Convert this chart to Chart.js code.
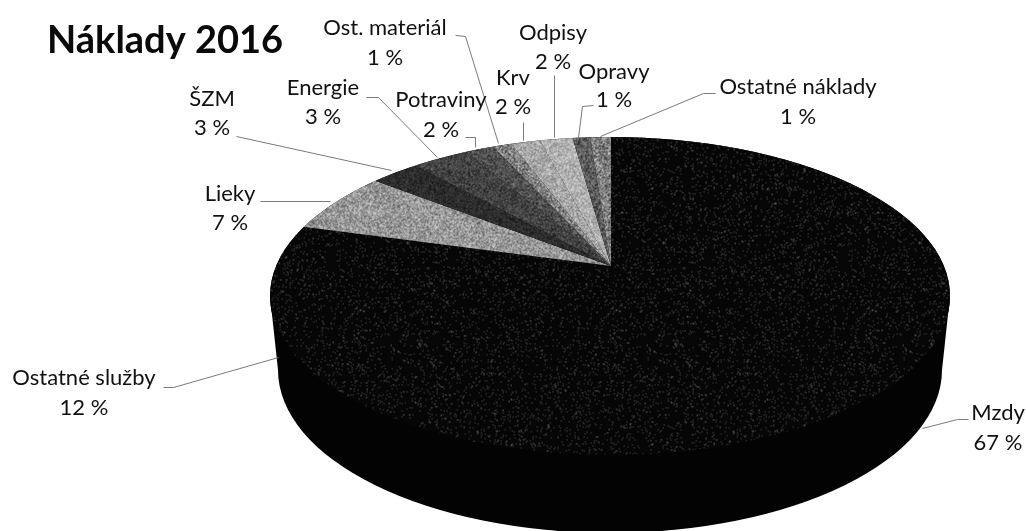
<!DOCTYPE html>
<html><head><meta charset="utf-8">
<style>html,body{margin:0;padding:0;background:#fff}#w{width:1026px;height:531px;position:relative}</style>
<script src="https://cdn.jsdelivr.net/npm/chart.js@4/dist/chart.umd.min.js"></script>
</head><body><div id="w"><canvas id="c" width="1026" height="531"></canvas></div>
<script>
const categories = ["Mzdy","Ostatné služby","Lieky","ŠZM","Energie","Potraviny","Ost. materiál","Krv","Odpisy","Opravy","Ostatné náklady"];
const percentLabels = ["67 %","12 %","7 %","3 %","3 %","2 %","1 %","2 %","2 %","1 %","1 %"];
const costShares = [66.6,11.8,5.6,2.7,3.3,1.8,1.2,1.9,2.2,1.2,1.4];
const sliceGreys = [20,20,152,44,66,78,130,168,178,92,128];
const labelX = [998,84,230,212,323,441,385,513,553,614,798];
const labelY = [413,378,194,99,88,100,28,78,33,72,87];
const lineGap = [30,30,29,29,29,30,30,29,29,28,30];
const leaders = [
 [[922,428],[957,419],[968,419]],
 [[278,357],[173,387],[163,387]],
 [[330,201],[260,201]],
 [[391,170],[236,136]],
 [[437,157],[378,97],[366,97]],
 [[475,147],[475,137],[465,137]],
 [[498,143],[465,36],[455,35]],
 [[523,140],[523,122]],
 [[554,137],[554,75]],
 [[578,137],[582,106],[593,105]],
 [[600,136],[703,93],[715,93]]
];
const APEX = {x:611,y:266}, TOP = {x:610,y:296,rx:340,ry:159}, BASE = {x:610,y:370,rx:332,ry:163};
const SX = 1.887, SY = 1.038;

function hash(x,y){let h=Math.imul(x,374761393)+Math.imul(y,668265263)|0;h=Math.imul(h^(h>>>13),1274126177);h=Math.imul(h^(h>>>15),2246822519);return ((h^(h>>>16))>>>0)/4294967296;}
function speckle(grey){
  const n=256,t=document.createElement('canvas');t.width=t.height=n;const g=t.getContext('2d');const d=g.createImageData(n,n);
  for(let y=0;y<n;y++)for(let x=0;x<n;x++){
    const r=hash(x+grey*7,y+grey*13);let v;
    if(grey<30){v=r<0.06?85:6;}
    else{const a=Math.min(grey,255-grey)*0.6;v=grey+(r-0.5)*2*a;}
    const i=(x+y*n)*4;d.data[i]=d.data[i+1]=d.data[i+2]=v;d.data[i+3]=255;
  }
  g.putImageData(d,0,0);
  const p=g.createPattern(t,'repeat');
  p.setTransform(new DOMMatrix().scale(1/SX,1/SY));
  return p;
}
const perspective = {
  id:'perspective',
  beforeDatasetsDraw(chart){
    const ctx=chart.ctx;const arc=chart.getDatasetMeta(0).data[0];
    ctx.save();ctx.fillStyle='#030303';ctx.beginPath();
    ctx.ellipse(BASE.x,BASE.y,BASE.rx,BASE.ry,0,0,Math.PI*2);ctx.fill();
    ctx.beginPath();ctx.moveTo(TOP.x-TOP.rx,TOP.y);ctx.lineTo(TOP.x+TOP.rx,TOP.y);ctx.lineTo(BASE.x+BASE.rx,BASE.y);ctx.lineTo(BASE.x-BASE.rx,BASE.y);ctx.closePath();ctx.fill();
    ctx.beginPath();ctx.ellipse(TOP.x,TOP.y,TOP.rx,TOP.ry,0,0,Math.PI*2);ctx.fill();
    ctx.restore();
    ctx.save();ctx.beginPath();ctx.ellipse(TOP.x,TOP.y,TOP.rx,TOP.ry,0,0,Math.PI*2);ctx.clip();
    ctx.translate(APEX.x,APEX.y);ctx.scale(SX,SY);ctx.translate(-arc.x,-arc.y);
  },
  afterDatasetsDraw(chart){
    const ctx=chart.ctx;ctx.restore();
    ctx.save();ctx.strokeStyle='#7a7a7a';ctx.lineWidth=1;
    leaders.forEach(l=>{ctx.beginPath();l.forEach((p,i)=>i?ctx.lineTo(p[0]+.5,p[1]+.5):ctx.moveTo(p[0]+.5,p[1]+.5));ctx.stroke();});
    ctx.fillStyle='#111';ctx.textAlign='center';ctx.textBaseline='middle';ctx.font='22px Lato';
    categories.forEach((c,i)=>{ctx.fillText(c,labelX[i],labelY[i]);ctx.fillText(percentLabels[i],labelX[i],labelY[i]+lineGap[i]);});
    ctx.restore();
  }
};
new Chart(document.getElementById('c'),{
  type:'pie',
  plugins:[perspective],
  data:{labels:categories,datasets:[{data:costShares,backgroundColor:sliceGreys.map(speckle),borderWidth:0,clip:false}]},
  options:{responsive:false,animation:false,events:[],layout:{padding:{left:47,top:18}},
    plugins:{legend:{display:false},tooltip:{enabled:false},
      title:{display:true,text:'Náklady 2016',align:'start',color:'#0a0a0a',font:{family:'Lato',size:38,weight:'bold'},padding:0,fullSize:false}}}
});
</script></body></html>
